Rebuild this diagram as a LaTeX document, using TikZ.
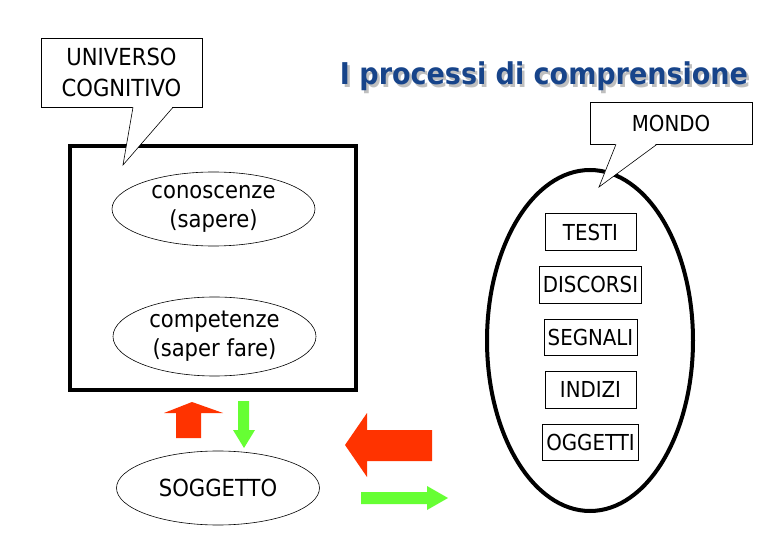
\documentclass[tikz,border=0pt]{standalone}
\usepackage{fontspec}
\setmainfont{DejaVu Sans}[FakeStretch=0.9]
\usepackage{xcolor}
\usepackage{tikz}
\usetikzlibrary{positioning, shapes.geometric}

\definecolor{titleblue}{RGB}{23,68,138}
\definecolor{arrowred}{RGB}{255,51,0}
\definecolor{arrowgreen}{RGB}{102,255,51}

\newcommand{\shadowtext}[1]{\makebox[0pt][l]{\hspace{2.5pt}\raisebox{-2.5pt}{\textcolor{gray!50}{#1}}}\textcolor{titleblue}{#1}}

\begin{document}
\begin{tikzpicture}[
    x=1pt, y=-1pt,
    callbox/.style={rectangle, draw, line width=0.6pt, fill=white, align=center, font=\fontsize{23.5}{31}\selectfont},
    bubble/.style={ellipse, draw, line width=0.6pt, minimum width=203pt, minimum height=74pt, inner sep=0pt, align=center, font=\fontsize{23.5}{29}\selectfont},
    itembox/.style={rectangle, draw, line width=0.6pt, minimum width=91pt, minimum height=36.5pt, inner xsep=3.5pt, font=\fontsize{22}{25}\selectfont},
    cogframe/.style={rectangle, draw, line width=4pt},
    redarrow/.style={fill=arrowred},
    greenarrow/.style={fill=arrowgreen},
    headline/.style={anchor=base, inner sep=0pt, font=\fontsize{30}{34}\selectfont\bfseries}
]
\useasboundingbox (0,0) rectangle (780,540);

\node[cogframe, minimum width=286pt, minimum height=244pt] (cogbox) at (213,268) {};
\node[ellipse, draw, line width=4pt, minimum width=206pt, minimum height=341pt] (mondo) at (590,340.5) {};

\node[bubble] (sapere) at (213.5,209) {conoscenze\\(sapere)};
\node[bubble, minimum height=79pt] (saperfare) at (214.5,336.5) {competenze\\(saper fare)};
\node[bubble] (soggetto) at (218,488) {SOGGETTO};

\node[itembox] (testi) at (590.5,232) {TESTI};
\node[itembox, below=15.5pt of testi] (discorsi) {DISCORSI};
\node[itembox, below=15.5pt of discorsi] (segnali) {SEGNALI};
\node[itembox, below=15.5pt of segnali] (indizi) {INDIZI};
\node[itembox, below=15.5pt of indizi] (oggetti) {OGGETTI};

\fill[redarrow] (192,402) -- (223,413) -- (201,413) -- (201,438) -- (176,438) -- (176,413) -- (164,413) -- cycle;
\fill[greenarrow] (238,401) -- (249,401) -- (249,430) -- (255,430) -- (244,448) -- (233,430) -- (238,430) -- cycle;
\fill[redarrow] (345,445) -- (367,413) -- (367,430) -- (432,430) -- (432,461) -- (367,461) -- (367,477) -- cycle;
\fill[greenarrow] (361,492) -- (427,492) -- (427,486) -- (448,498) -- (427,510) -- (427,504) -- (361,504) -- cycle;

\node[callbox, minimum width=161pt, minimum height=69pt] (univ) at (121.5,72.5) {UNIVERSO\\COGNITIVO};
\coordinate (univtip) at (123,165);
\fill[white] ([xshift=11.5pt,yshift=1pt]univ.south) -- (univtip) -- ([xshift=51.5pt,yshift=1pt]univ.south) -- cycle;
\draw[line width=0.6pt] ([xshift=11.5pt]univ.south) -- (univtip) -- ([xshift=51.5pt]univ.south);

\node[callbox, font=\fontsize{22}{25}\selectfont, minimum width=162pt, minimum height=42pt] (mondolabel) at (671,123) {MONDO};
\coordinate (mondotip) at (599,187);
\fill[white] ([xshift=-55pt,yshift=1pt]mondolabel.south) -- (mondotip) -- ([xshift=-14pt,yshift=1pt]mondolabel.south) -- cycle;
\draw[line width=0.6pt] ([xshift=-55pt]mondolabel.south) -- (mondotip) -- ([xshift=-14pt]mondolabel.south);

\node[headline] (title) at (544,85) {\shadowtext{I processi di comprensione}};

\end{tikzpicture}
\end{document}
